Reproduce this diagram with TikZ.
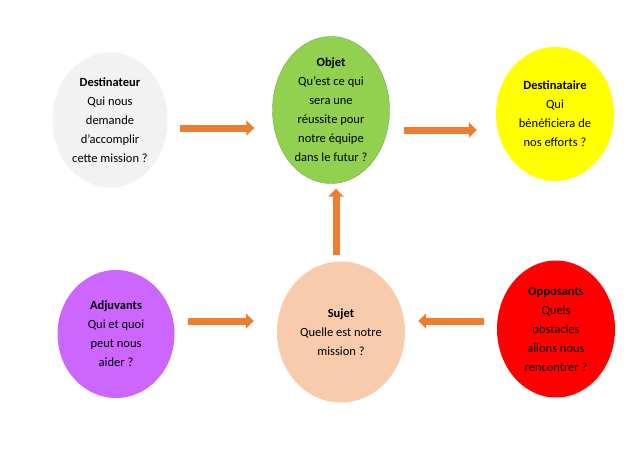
\documentclass[tikz,border=0pt]{standalone}
\usepackage{fontspec}
\setmainfont{Carlito}
\usepackage[usenames,dvipsnames]{xcolor}
\usetikzlibrary{shapes.geometric,arrows.meta}
\definecolor{fleorange}{RGB}{237,125,49}
\definecolor{gris}{RGB}{242,242,242}
\definecolor{vert}{RGB}{146,208,80}
\definecolor{vertbord}{RGB}{112,173,71}
\definecolor{jaune}{RGB}{255,255,0}
\definecolor{violet}{RGB}{204,102,255}
\definecolor{peche}{RGB}{248,203,173}
\definecolor{rouge}{RGB}{255,0,0}

\begin{document}
\begin{tikzpicture}[x=1pt,y=-1pt,
					actant/.style={ellipse,inner sep=0pt,align=center,
						font=\fontsize{12.5}{19}\selectfont},
					fleche/.style={draw=fleorange,line width=7pt,
						-{Triangle[width=15pt,length=8pt]}}]
					\useasboundingbox[fill=white] (0,0) rectangle (640,461);
					\node[actant,fill=gris,minimum width=115,minimum height=135] (dest) at (110,120)
						{\textbf{Destinateur}\\Qui nous\\demande\\d’accomplir\\cette mission ?};
					\node[actant,fill=vert,draw=vertbord,minimum width=117,minimum height=147] (obj) at (331,110)
						{\textbf{Objet}\\Qu’est ce qui\\sera une\\réussite pour\\notre équipe\\dans le futur ?};
					\node[actant,fill=jaune,minimum width=118,minimum height=134] (dtaire) at (555,114)
						{\textbf{Destinataire}\\Qui\\bénéficiera de\\nos efforts ?};
					\node[actant,fill=violet,minimum width=117,minimum height=128] (adj) at (116,334)
						{\textbf{Adjuvants}\\Qui et quoi\\peut nous\\aider ?};
					\node[actant,fill=peche,minimum width=128,minimum height=141] (sujet) at (341,332)
						{\textbf{Sujet}\\Quelle est notre\\mission ?};
					\node[actant,fill=rouge,minimum width=118,minimum height=137] (opp) at (556,329)
						{\textbf{Opposants}\\Quels\\obstacles\\allons nous\\rencontrer ?};
					\draw[fleche] ([xshift=12pt,yshift=-8pt]dest.east) -- ([xshift=-18pt,yshift=-8pt]dest.east -| obj.west);
					\draw[fleche] ([xshift=14pt,yshift=-20pt]obj.east) -- ([xshift=-19pt,yshift=-20pt]obj.east -| dtaire.west);
					\draw[fleche] ([xshift=-5pt,yshift=6pt]sujet.north) -- ([xshift=-5pt,yshift=-5pt]sujet.north |- obj.south);
					\draw[fleche] ([xshift=13pt,yshift=13pt]adj.east) -- ([xshift=-23pt,yshift=13pt]adj.east -| sujet.west);
					\draw[fleche] ([xshift=-13pt,yshift=8pt]opp.west) -- ([xshift=13pt,yshift=8pt]opp.west -| sujet.east);
				\end{tikzpicture}
\end{document}
